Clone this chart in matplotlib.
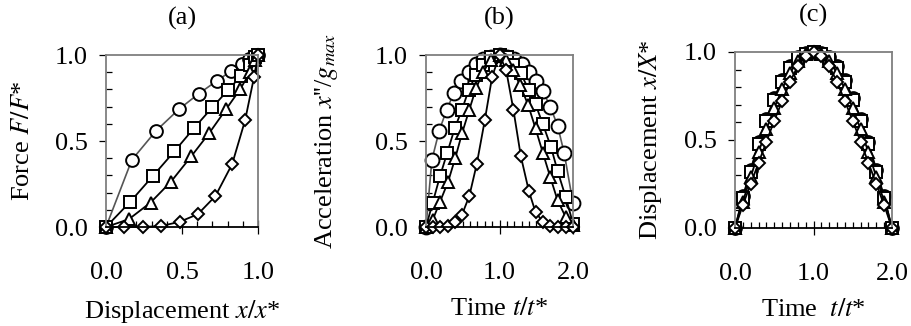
import matplotlib
matplotlib.use("Agg")
import matplotlib.pyplot as plt
from matplotlib.ticker import MultipleLocator, FixedLocator

plt.rcParams['font.family'] = ['Liberation Serif', 'DejaVu Serif']
plt.rcParams['mathtext.fontset'] = 'stix'
FS = 19

# (a) force vs displacement
a_circ_x = [0, 0.17, 0.33, 0.48, 0.61, 0.73, 0.82, 0.895, 0.94, 0.975, 1.0]
a_circ_y = [0, 0.39, 0.56, 0.685, 0.775, 0.85, 0.905, 0.948, 0.975, 0.99, 1.0]
a_sq_x = [0, 0.16, 0.31, 0.45, 0.58, 0.70, 0.805, 0.89, 0.945, 0.983, 1.0]
a_sq_y = [0, 0.147, 0.298, 0.44, 0.576, 0.696, 0.798, 0.88, 0.942, 0.986, 1.0]
a_tri_x = [0, 0.15, 0.293, 0.428, 0.56, 0.68, 0.792, 0.884, 0.95, 0.983, 1.0]
a_tri_y = [0, 0.045, 0.142, 0.264, 0.41, 0.547, 0.687, 0.803, 0.903, 0.971, 1.0]
a_dia_x = [0, 0.12, 0.242, 0.363, 0.485, 0.605, 0.72, 0.83, 0.915, 0.974, 1.0]
a_dia_y = [0, 0, 0, 0.006, 0.03, 0.075, 0.18, 0.366, 0.62, 0.872, 1.0]

# (b) acceleration vs time
b_circ_t = [0, 0.08, 0.18, 0.28, 0.38, 0.48, 0.58, 0.68, 0.78, 0.89, 1.0,
            1.10, 1.20, 1.30, 1.40, 1.50, 1.59, 1.69, 1.79, 1.88, 2.0]
b_circ_y = [0, 0.39, 0.56, 0.68, 0.78, 0.85, 0.90, 0.95, 0.975, 0.99, 1.0,
            0.99, 0.975, 0.946, 0.903, 0.85, 0.79, 0.70, 0.59, 0.43, 0.14]
b_sq_t = [0, 0.09, 0.19, 0.29, 0.39, 0.49, 0.58, 0.68, 0.78, 0.88, 1.0,
          1.10, 1.19, 1.29, 1.40, 1.49, 1.59, 1.70, 1.79, 1.90, 2.0]
b_sq_y = [0, 0.14, 0.295, 0.433, 0.573, 0.683, 0.796, 0.883, 0.94, 0.986, 1.0,
          0.986, 0.94, 0.893, 0.796, 0.713, 0.598, 0.466, 0.326, 0.175, 0.02]
b_tri_t = [0, 0.09, 0.19, 0.30, 0.40, 0.49, 0.59, 0.68, 0.78, 0.88, 1.0,
           1.09, 1.18, 1.28, 1.39, 1.49, 1.59, 1.69, 1.79, 1.90, 2.0]
b_tri_y = [0, 0.04, 0.146, 0.262, 0.404, 0.544, 0.683, 0.806, 0.903, 0.971, 1.0,
           0.971, 0.913, 0.825, 0.709, 0.573, 0.431, 0.291, 0.155, 0.058, 0.01]
b_dia_t = [0, 0.09, 0.19, 0.30, 0.40, 0.49, 0.59, 0.69, 0.80, 0.90, 1.0,
           1.09, 1.19, 1.29, 1.40, 1.49, 1.59, 1.69, 1.79, 1.90, 2.0]
b_dia_y = [0, 0, 0, 0.006, 0.029, 0.072, 0.181, 0.365, 0.621, 0.874, 1.0,
           0.913, 0.68, 0.412, 0.208, 0.087, 0.029, 0.006, 0, 0, 0]

# (c) displacement vs time
c_t = [0, 0.1, 0.2, 0.3, 0.4, 0.5, 0.6, 0.7, 0.8, 0.9, 1.0,
       1.1, 1.2, 1.3, 1.4, 1.5, 1.6, 1.7, 1.8, 1.9, 2.0]
c_circ_y = [0, 0.18, 0.33, 0.49, 0.62, 0.74, 0.84, 0.92, 0.97, 0.995, 1.0,
            0.995, 0.97, 0.92, 0.84, 0.74, 0.62, 0.49, 0.33, 0.18, 0]
c_sq_y = [0, 0.17, 0.32, 0.48, 0.61, 0.73, 0.83, 0.91, 0.965, 0.99, 1.0,
          0.99, 0.965, 0.91, 0.83, 0.73, 0.61, 0.48, 0.32, 0.17, 0]
c_tri_y = [0, 0.15, 0.29, 0.43, 0.56, 0.68, 0.79, 0.88, 0.95, 0.99, 1.0,
           0.99, 0.95, 0.88, 0.79, 0.68, 0.56, 0.43, 0.29, 0.15, 0]
c_dia_y = [0, 0.13, 0.25, 0.37, 0.49, 0.61, 0.72, 0.83, 0.92, 0.975, 1.0,
           0.975, 0.92, 0.83, 0.72, 0.61, 0.49, 0.37, 0.25, 0.13, 0]

W, H = 911, 326
fig = plt.figure(figsize=(W / 100, H / 100), dpi=100)


def make_ax(l, r, t, b):
    return fig.add_axes([l / W, (H - b) / H, (r - l) / W, (b - t) / H])


mk = dict(mfc='white', mec='black', mew=1.4, clip_on=False)


def draw(ax, series, circle_color, circle_size):
    (cx, cy), (sx, sy), (tx, ty), (dx, dy) = series
    ax.plot(cx, cy, '-o', color=circle_color, ms=circle_size, lw=1.2, **mk)
    ax.plot(sx, sy, '-s', color='black', ms=8.0, lw=1.3, **mk)
    ax.plot(tx, ty, '-^', color='black', ms=8.6, lw=1.3, **mk)
    ax.plot(dx, dy, '-D', color='black', ms=5.9, lw=1.3, **mk)


def style(ax, xmax, xmajor, xticklabels, title, xlabel, ylabel, ylabelx):
    ax.set_xlim(0, xmax)
    ax.set_ylim(0, 1)
    for s in ['top', 'right', 'left']:
        ax.spines[s].set_color('#7f7f7f')
        ax.spines[s].set_linewidth(1.3)
    ax.spines['bottom'].set_color('black')
    ax.spines['bottom'].set_linewidth(1.3)
    ax.xaxis.set_major_locator(FixedLocator(xmajor))
    ax.set_xticklabels(xticklabels)
    ax.xaxis.set_minor_locator(MultipleLocator(0.1))
    ax.yaxis.set_major_locator(FixedLocator([0, 0.5, 1.0]))
    ax.set_yticklabels(['0.0', '0.5', '1.0'])
    ax.yaxis.set_minor_locator(MultipleLocator(0.1))
    ax.tick_params(axis='x', which='major', direction='inout', length=10,
                   width=0.9, pad=20, labelsize=FS)
    ax.tick_params(axis='y', which='major', direction='out', length=5,
                   width=0.9, pad=8, labelsize=FS)
    ax.tick_params(which='minor', direction='in', length=4, width=0.9)
    ax.set_title(title, fontsize=FS, pad=22)
    ax.set_xlabel(xlabel, fontsize=FS, labelpad=10)
    ax.set_ylabel(ylabel, fontsize=FS)
    ax.yaxis.set_label_coords(ylabelx, 0.5)


ax1 = make_ax(106, 258, 55, 227)
draw(ax1, [(a_circ_x, a_circ_y), (a_sq_x, a_sq_y), (a_tri_x, a_tri_y),
           (a_dia_x, a_dia_y)], '#555555', 9.2)
style(ax1, 1.0, [0, 0.5, 1.0], ['0.0', '0.5', '1.0'], '(a)',
      'Displacement $x/x$*', 'Force $F/F$*', (34 - 106) / 152)

ax2 = make_ax(426, 573, 55, 227)
draw(ax2, [(b_circ_t, b_circ_y), (b_sq_t, b_sq_y), (b_tri_t, b_tri_y),
           (b_dia_t, b_dia_y)], '#555555', 10.0)
style(ax2, 2.0, [0, 1.0, 2.0], ['0.0', '1.0', '2.0'], '(b)',
      'Time $t/t$*', "Acceleration $x$''/$g_{max}$", (340 - 426) / 147)

ax3 = make_ax(735, 892, 52, 228)
draw(ax3, [(c_t, c_circ_y), (c_t, c_sq_y), (c_t, c_tri_y), (c_t, c_dia_y)],
     'black', 9.2)
style(ax3, 2.0, [0, 1.0, 2.0], ['0.0', '1.0', '2.0'], '(c)',
      'Time  $t/t$*', 'Displacement $x/X$*', (664 - 735) / 157)

fig.savefig('out.png', dpi=100)
